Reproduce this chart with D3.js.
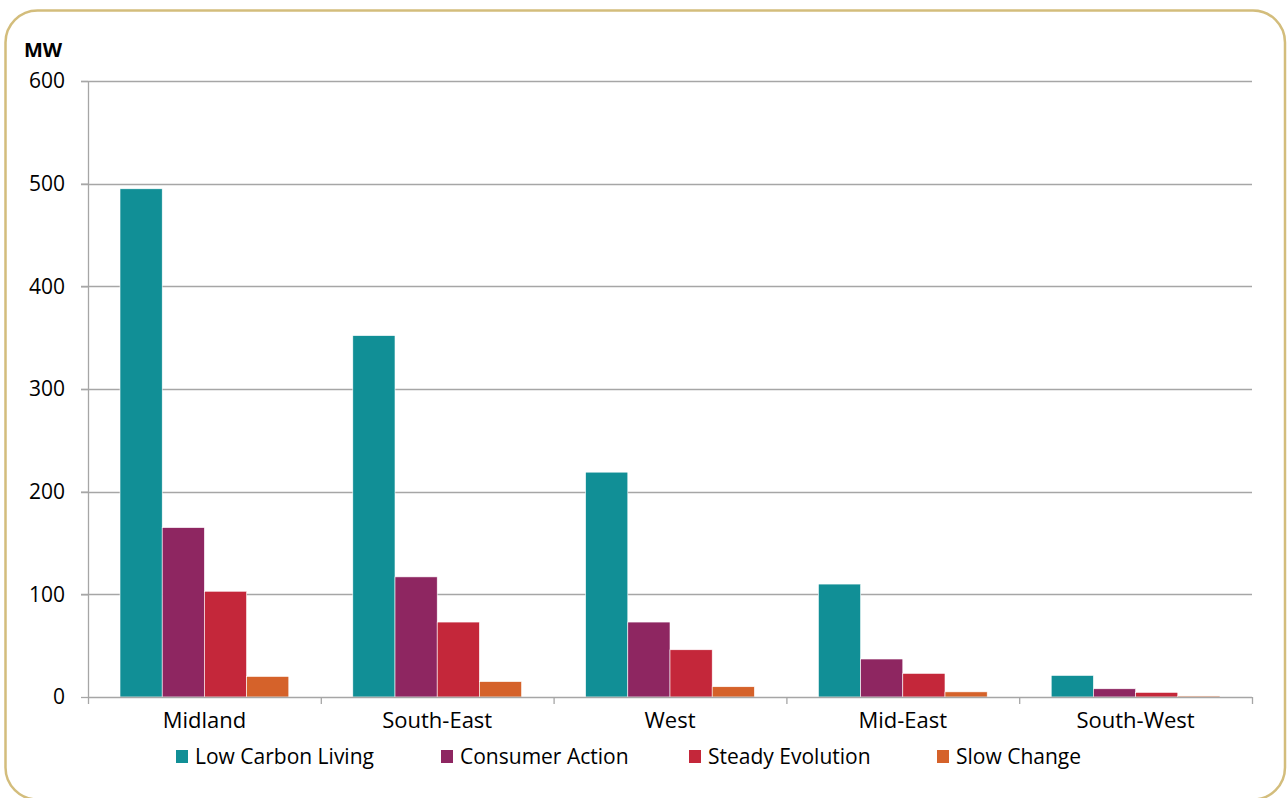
<!DOCTYPE html>
<html>
<head>
<meta charset="utf-8">
<script src="https://cdn.jsdelivr.net/npm/d3@7"></script>
<style>
  body { margin: 0; background: #fff; }
  svg { display: block; font-family: "Open Sans", "Noto Sans", sans-serif; }
</style>
</head>
<body>
<svg id="chart" width="1287" height="798"></svg>
<script>
var regions = ["Midland", "South-East", "West", "Mid-East", "South-West"];
var scenarios = ["Low Carbon Living", "Consumer Action", "Steady Evolution", "Slow Change"];
var colors = ["#118f96", "#8e2661", "#c4273a", "#d5622a"];

var lowCarbon = [495, 352, 219, 110, 21];
var consumer = [165, 117, 73, 37, 8];
var steady = [103, 73, 46, 23, 4.5];
var slow = [20, 15, 10, 5, 1];
var yTicks = [0, 100, 200, 300, 400, 500, 600];

var series = [lowCarbon, consumer, steady, slow];

var svg = d3.select("#chart");
var margin = {top: 81, left: 88, right: 35, bottom: 101};
var width = 1287 - margin.left - margin.right,
    height = 798 - margin.top - margin.bottom;

// Rounded frame
svg.append("rect")
    .attr("x", 5.5).attr("y", 10.5)
    .attr("width", 1279.5).attr("height", 789)
    .attr("rx", 32).attr("ry", 32)
    .attr("fill", "none")
    .attr("stroke", "#d3bd7c")
    .attr("stroke-width", 2.5);

var g = svg.append("g")
    .attr("transform", "translate(" + margin.left + "," + margin.top + ")");

var x0 = d3.scaleBand().domain(regions).range([0, width]).paddingInner(0.275).paddingOuter(0.1375);
var x1 = d3.scaleBand().domain(scenarios).range([0, x0.bandwidth()]);
var y = d3.scaleLinear().domain([0, 600]).range([height, 0]);

// gridlines
g.append("g")
    .selectAll("line")
    .data(yTicks.slice(1))
    .enter().append("line")
    .attr("x1", -7).attr("x2", width)
    .attr("y1", function(d) { return Math.round(y(d)) + 0.5; })
    .attr("y2", function(d) { return Math.round(y(d)) + 0.5; })
    .attr("stroke", "#a6a6a6")
    .attr("stroke-width", 1.3);

// bars
var groups = g.selectAll(".region")
    .data(regions)
    .enter().append("g")
    .attr("transform", function(d) { return "translate(" + x0(d) + ",0)"; });

groups.selectAll("rect")
    .data(function(d, i) { return series.map(function(s, j) { return {k: scenarios[j], v: s[i], c: colors[j]}; }); })
    .enter().append("rect")
    .attr("x", function(d) { return x1(d.k); })
    .attr("width", x1.bandwidth())
    .attr("y", function(d) { return y(d.v); })
    .attr("height", function(d) { return height - y(d.v); })
    .attr("fill", function(d) { return d.c; })
    .attr("stroke", "#fff")
    .attr("stroke-width", 0.6);

// y axis
var yAxis = g.append("g")
    .call(d3.axisLeft(y).tickValues(yTicks).tickSize(7).tickPadding(16));
yAxis.attr("font-family", null).attr("font-size", null);
yAxis.select(".domain").attr("stroke", "#a6a6a6").attr("stroke-width", 1.3).attr("d", "M0.5," + height + "V0");
yAxis.selectAll(".tick line").attr("stroke", "#a6a6a6").attr("stroke-width", 1.3);
yAxis.selectAll(".tick text")
    .style("font-size", "21px")
    .attr("fill", "#000");

// x axis
var xAxis = g.append("g")
    .attr("transform", "translate(0," + height + ")");
xAxis.append("line")
    .attr("x1", 0).attr("x2", width)
    .attr("y1", 0.5).attr("y2", 0.5)
    .attr("stroke", "#a6a6a6").attr("stroke-width", 1.3);
var step = width / regions.length;
xAxis.selectAll(".xtick")
    .data(d3.range(regions.length + 1))
    .enter().append("line")
    .attr("x1", function(d) { return d * step + 0.5; })
    .attr("x2", function(d) { return d * step + 0.5; })
    .attr("y1", 0).attr("y2", 7)
    .attr("stroke", "#a6a6a6").attr("stroke-width", 1.3);
xAxis.selectAll(".xlabel")
    .data(regions)
    .enter().append("text")
    .attr("x", function(d) { return x0(d) + x0.bandwidth() / 2; })
    .attr("y", 31)
    .attr("text-anchor", "middle")
    .style("font-size", "22px")
    .attr("fill", "#000")
    .text(function(d) { return d; });

// unit label
svg.append("text")
    .attr("x", 24).attr("y", 57)
    .style("font-size", "20px")
    .style("font-weight", "bold")
    .text("MW");

// legend
var legendX = [176, 441, 689, 937];
var legend = svg.append("g");
scenarios.forEach(function(s, i) {
    legend.append("rect")
        .attr("x", legendX[i]).attr("y", 750)
        .attr("width", 12).attr("height", 13)
        .attr("fill", colors[i]);
    legend.append("text")
        .attr("x", legendX[i] + 19).attr("y", 764)
        .style("font-size", "21px")
        .text(s);
});
</script>
</body>
</html>
